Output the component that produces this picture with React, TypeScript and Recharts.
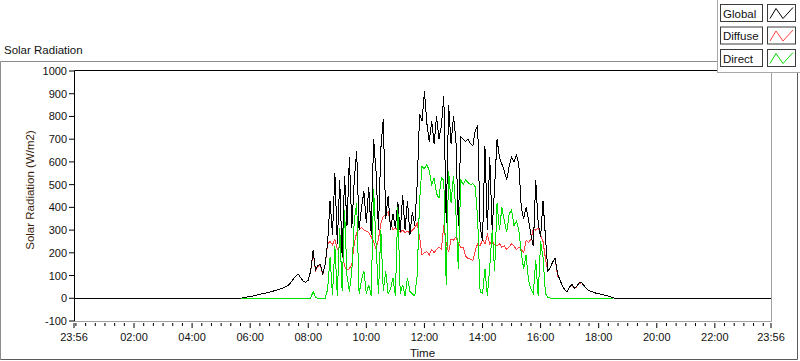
import React from 'react';
import { LineChart, Line, XAxis, YAxis } from 'recharts';

// 5-minute samples from 05:40 to 18:40 (minutes after midnight)
const START_MIN = 340;
const STEP_MIN = 5;

const globalVals = [
  0, 2, 4, 6, 8, 10, 12, 15, 17, 20,
  22, 25, 27, 30, 33, 36, 40, 43, 47, 52,
  60, 72, 88, 100, 105, 88, 75, 70, 80, 120,
  210, 125, 145, 148, 108, 150, 245, 430, 280, 550,
  240, 520, 180, 540, 320, 620, 310, 520, 650, 300,
  400, 470, 330, 490, 280, 700, 560, 300, 660, 790,
  350, 450, 300, 370, 310, 425, 290, 455, 300, 430,
  280, 380, 320, 500, 810, 780, 910, 770, 690, 780,
  680, 800, 700, 760, 890, 330, 850, 680, 800, 700,
  320, 710, 700, 690, 700, 680, 670, 740, 760, 320,
  250, 670, 300, 620, 300, 490, 700, 620, 590, 560,
  520, 580, 620, 600, 630, 590, 400, 350, 400, 345,
  280, 230, 520, 330, 270, 430, 270, 120, 135, 160,
  175, 110, 80, 55, 38, 28, 50, 60, 45, 52,
  70, 68, 55, 42, 34, 30, 26, 22, 20, 18,
  15, 12, 9, 6, 2, 0, 0,
];

const diffuseVals = [
  0, 2, 4, 6, 8, 10, 12, 15, 17, 20,
  22, 25, 27, 30, 33, 36, 40, 43, 47, 52,
  60, 72, 88, 100, 105, 88, 75, 70, 80, 118,
  200, 122, 140, 145, 105, 148, 240, 250, 235, 260,
  215, 230, 200, 140, 125, 130, 150, 240, 290, 300,
  310, 300, 295, 290, 270, 250, 215, 260, 330, 360,
  370, 380, 330, 300, 310, 300, 290, 300, 290, 295,
  285, 300, 310, 330, 270, 190, 200, 205, 190, 215,
  200, 215, 225, 215, 320, 240, 205, 260, 255, 270,
  245, 225, 225, 185, 175, 172, 165, 210, 240, 230,
  260, 240, 280, 240, 255, 235, 230, 240, 225, 230,
  215, 225, 240, 230, 215, 225, 215, 200, 255, 245,
  260, 305, 300, 310, 280, 250, 175, 118, 135, 160,
  175, 100, 80, 55, 38, 28, 50, 58, 42, 52,
  66, 68, 55, 42, 34, 30, 26, 22, 20, 18,
  15, 12, 9, 6, 2, 0, 0,
];

const directVals = [
  0, 0, 0, 0, 0, 0, 0, 0, 0, 0,
  0, 0, 0, 0, 0, 0, 0, 0, 0, 0,
  0, 0, 0, 0, 0, 0, 0, 0, 0, 0,
  30, 5, 0, 0, 0, 0, 40, 180, 15, 230,
  10, 310, 30, 390, 100, 30, 120, 340, 420, 20,
  80, 120, 20, 60, 10, 480, 240, 20, 300, 30,
  120, 20, 40, 90, 10, 400, 20, 60, 10, 90,
  30, 20, 10, 100, 430, 580, 570, 590, 560, 500,
  530, 460, 440, 530, 520, 60, 560, 420, 540, 380,
  130, 520, 500, 520, 510, 500, 505, 490, 350, 30,
  20, 130, 10, 140, 300, 120, 420, 300, 400, 340,
  290, 370, 390, 320, 340, 300, 200, 130, 190, 80,
  40, 20, 170, 10, 250, 180, 20, 5, 0, 0,
  0, 0, 0, 0, 0, 0, 0, 0, 0, 0,
  0, 0, 0, 0, 0, 0, 0, 0, 0, 0,
  0, 0, 0, 0, 0,
];

const xMajorTicks = [-4, 120, 240, 360, 480, 600, 720, 840, 960, 1080, 1200, 1320, 1436];
const xMajorLabels = ['23:56', '02:00', '04:00', '06:00', '08:00', '10:00', '12:00', '14:00', '16:00', '18:00', '20:00', '22:00', '23:56'];
const yTicks = [-100, 0, 100, 200, 300, 400, 500, 600, 700, 800, 900, 1000];

const legendItems = [
  { name: 'Global', color: '#000000' },
  { name: 'Diffuse', color: '#ff4040' },
  { name: 'Direct', color: '#00e000' },
];

const FONT = '"Liberation Sans", Arial, sans-serif';

const data = [
  { t: -4, global: 0, diffuse: 0 },
  ...globalVals.map((g, i) => ({
    t: START_MIN + STEP_MIN * i,
    global: g,
    diffuse: diffuseVals[i],
    direct: directVals[i],
  })),
  { t: 1436, global: 0, diffuse: 0 },
];

const minorTicks: number[] = [];
for (let m = 0; m < 1440; m += 20) {
  if (!xMajorTicks.includes(m)) minorTicks.push(m);
}
const allXTicks = [...xMajorTicks, ...minorTicks].sort((a, b) => a - b);

const XTick = (props: any) => {
  const { x, y, payload } = props;
  const idx = xMajorTicks.indexOf(payload.value);
  const major = idx >= 0;
  return (
    <g>
      <line x1={x} x2={x} y1={y + 2} y2={y + (major ? 7 : 5)} stroke="#000" strokeWidth={1} />
      {major && (
        <text x={x} y={y + 20} textAnchor="middle" fontFamily={FONT} fontSize={11} fill="#111">
          {xMajorLabels[idx]}
        </text>
      )}
    </g>
  );
};

const YTick = (props: any) => {
  const { x, y, payload } = props;
  return (
    <g>
      <line x1={x - 5} x2={x} y1={y} y2={y} stroke="#000" strokeWidth={1} />
      <text x={x - 7} y={y + 4} textAnchor="end" fontFamily={FONT} fontSize={11} fill="#111">
        {payload.value}
      </text>
    </g>
  );
};

export default function App() {
  return (
    <div style={{ position: 'absolute', left: 0, top: 0, width: 800, height: 361, background: '#fff' }}>
      <LineChart width={800} height={361} data={data} margin={{ top: 71, right: 29, bottom: 0, left: 0 }}>
        <XAxis
          dataKey="t"
          type="number"
          domain={[-4, 1436]}
          ticks={allXTicks}
          interval={0}
          height={40}
          axisLine={false}
          tickLine={false}
          tickSize={0}
          tickMargin={0}
          tick={<XTick />}
        />
        <YAxis
          type="number"
          domain={[-100, 1000]}
          ticks={yTicks}
          interval={0}
          width={74}
          axisLine={false}
          tickLine={false}
          tickSize={0}
          tickMargin={0}
          tick={<YTick />}
        />
        <Line type="linear" dataKey="diffuse" stroke="#ff4040" strokeWidth={1} dot={false} shapeRendering="crispEdges" isAnimationActive={false} />
        <Line type="linear" dataKey="global" stroke="#000000" strokeWidth={1} dot={false} shapeRendering="crispEdges" isAnimationActive={false} />
        <Line type="linear" dataKey="direct" stroke="#00e000" strokeWidth={1} dot={false} shapeRendering="crispEdges" isAnimationActive={false} />
      </LineChart>

      <svg width={800} height={361} style={{ position: 'absolute', left: 0, top: 0, pointerEvents: 'none' }}>
        {/* outer frame */}
        <path d="M0.5 359.5 V61.5 H718" fill="none" stroke="#8c8c8c" />
        <path d="M0.5 359.5 H797.5 V72.5" fill="none" stroke="#5a5a5a" />
        {/* plot frame */}
        <path d="M74.5 321.5 V70.5 H771.5" fill="none" stroke="#000" />
        <path d="M74.5 321.5 H771.5 V70.5" fill="none" stroke="#a0a0a0" />
        <text x={4} y={54} fontFamily={FONT} fontSize={11.5} fill="#111">Solar Radiation</text>
        <text x={0} y={0} transform="translate(34 190) rotate(-90)" textAnchor="middle" fontFamily={FONT} fontSize={11.5} fill="#3a1d0c">
          Solar Radiation (W/m2)
        </text>
        <text x={422.5} y={357} textAnchor="middle" fontFamily={FONT} fontSize={11.5} fill="#111">Time</text>
        {/* legend */}
        <rect x={717.5} y={-1} width={90} height={73.5} fill="#fff" stroke="#a8a8a8" />
        {legendItems.map((item, k) => {
          const top = 4.5 + k * 22.5;
          return (
            <g key={item.name}>
              <rect x={720.5} y={top} width={42} height={17} fill="#fff" stroke="#3c3c3c" />
              <text x={723} y={top + 13} fontFamily={FONT} fontSize={11.5} fill="#111">{item.name}</text>
              <rect x={767.5} y={top} width={28} height={17} fill="#fff" stroke="#3c3c3c" />
              <polyline
                points={`${770},${top + 14} ${776},${top + 4} ${783},${top + 14} ${793},${top + 3}`}
                fill="none"
                stroke={item.color}
                strokeWidth={1}
              />
            </g>
          );
        })}
      </svg>
    </div>
  );
}
